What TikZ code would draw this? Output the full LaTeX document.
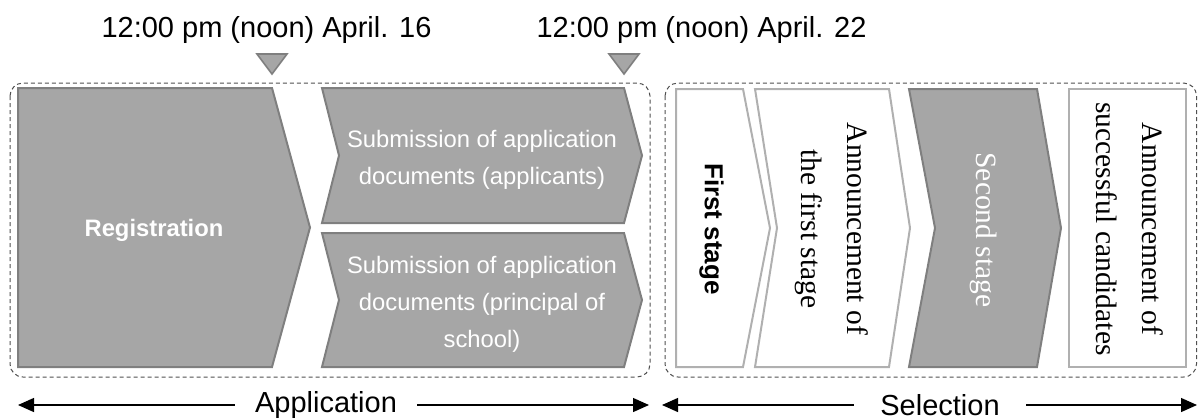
\documentclass[tikz,border=0pt]{standalone}
\usepackage{fontspec}
\setmainfont{Liberation Serif}
\setsansfont{Liberation Sans}
\usetikzlibrary{arrows.meta}
\definecolor{boxgray}{HTML}{A6A6A6}
\definecolor{edgegray}{HTML}{7F7F7F}
\definecolor{lightedge}{HTML}{B0B0B0}
\definecolor{dashgray}{HTML}{505050}
\begin{document}
\begin{tikzpicture}[x=0.5pt, y=-0.5pt,
    darkbox/.style={fill=boxgray, draw=edgegray, line width=1pt},
    lightbox/.style={fill=white, draw=lightedge, line width=1pt},
    phasebox/.style={draw=dashgray, dash pattern=on 2pt off 1.5pt, line width=0.5pt, rounded corners=6.5pt},
    datetext/.style={font=\sffamily\fontsize{14.5}{17}\selectfont, anchor=base},
    subtext/.style={font=\sffamily\fontsize{11.9}{18.5}\selectfont, text=white, align=center},
    stagetext/.style={font=\fontsize{14.75}{23}\selectfont, align=center, rotate=-90},
    phaselabel/.style={font=\sffamily\fontsize{14.5}{17}\selectfont, inner ysep=0pt, inner xsep=11pt},
    span/.style={-{Triangle[length=8pt,width=7pt]}, line width=0.65pt}]
    \useasboundingbox (0,0) rectangle (1198,419);
    %! --- Application ---
    % Dashed frames
    \draw[phasebox] (10,83) rectangle (650,377);
    \draw[phasebox] (665,83) rectangle (1196.5,377);
    % Deadlines
    \node[datetext] (noon16) at (266.5,37) {12:00 pm (noon) April. 16};
    \node[datetext] (noon22) at (701.5,37) {12:00 pm (noon) April. 22};
    \foreach \x in {272,624} {
        \draw[darkbox, line width=0.8pt] (\x-15,54) -- (\x+15,54) -- (\x,74) -- cycle;
    }
    % Registration
    \draw[darkbox] (18,88) -- (272,88) -- (310,227.5) -- (272,367) -- (18,367) -- cycle;
    \node[font=\sffamily\bfseries\fontsize{11.9}{14}\selectfont, text=white] (reg) at (154,230) {Registration};
    % Submission of documents
    \foreach \t/\b in {88/223,233/367} {
        \draw[darkbox] (322,\t) -- (624,\t) -- (642,{(\t+\b)/2}) -- (624,\b) -- (322,\b) -- (339,{(\t+\b)/2}) -- cycle;
    }
    \node[subtext] (subapp) at (482,160) {Submission of application\\documents (applicants)};
    \node[subtext] (subpri) at (482,304) {Submission of application\\documents (principal of\\school)};
    %! --- Selection ---
    \draw[lightbox] (676,89) -- (743,89) -- (770,228) -- (743,367) -- (676,367) -- cycle;
    \draw[lightbox] (755,89) -- (889,89) -- (910,228) -- (889,367) -- (755,367) -- (777,228) -- cycle;
    \draw[darkbox] (909,89) -- (1037,89) -- (1061,228) -- (1037,367) -- (909,367) -- (935,228) -- cycle;
    \draw[lightbox] (1069,89) rectangle (1186,367);
    \node[font=\sffamily\bfseries\fontsize{13}{15}\selectfont, rotate=-90] (first) at (711.5,229) {First stage};
    \node[stagetext] (annfirst) at (832,229) {Announcement of\\the first stage};
    \node[stagetext, text=white] (second) at (984,230) {Second stage};
    \node[stagetext] (annfinal) at (1130,229) {Announcement of\\successful candidates};
    % Phase arrows and labels
    \node[phaselabel, inner xsep=10pt] (app) at (326,405) {Application};
    \node[phaselabel, inner xsep=13pt] (sel) at (940,405) {Selection};
    \coordinate (appL) at (18,405);
    \coordinate (appR) at (649,405);
    \coordinate (selL) at (662,405);
    \coordinate (selR) at (1197,405);
    \draw[span] (app.west) -- (appL);
    \draw[span] (app.east) -- (appR);
    \draw[span] (sel.west) -- (selL);
    \draw[span] (sel.east) -- (selR);
\end{tikzpicture}
\end{document}
